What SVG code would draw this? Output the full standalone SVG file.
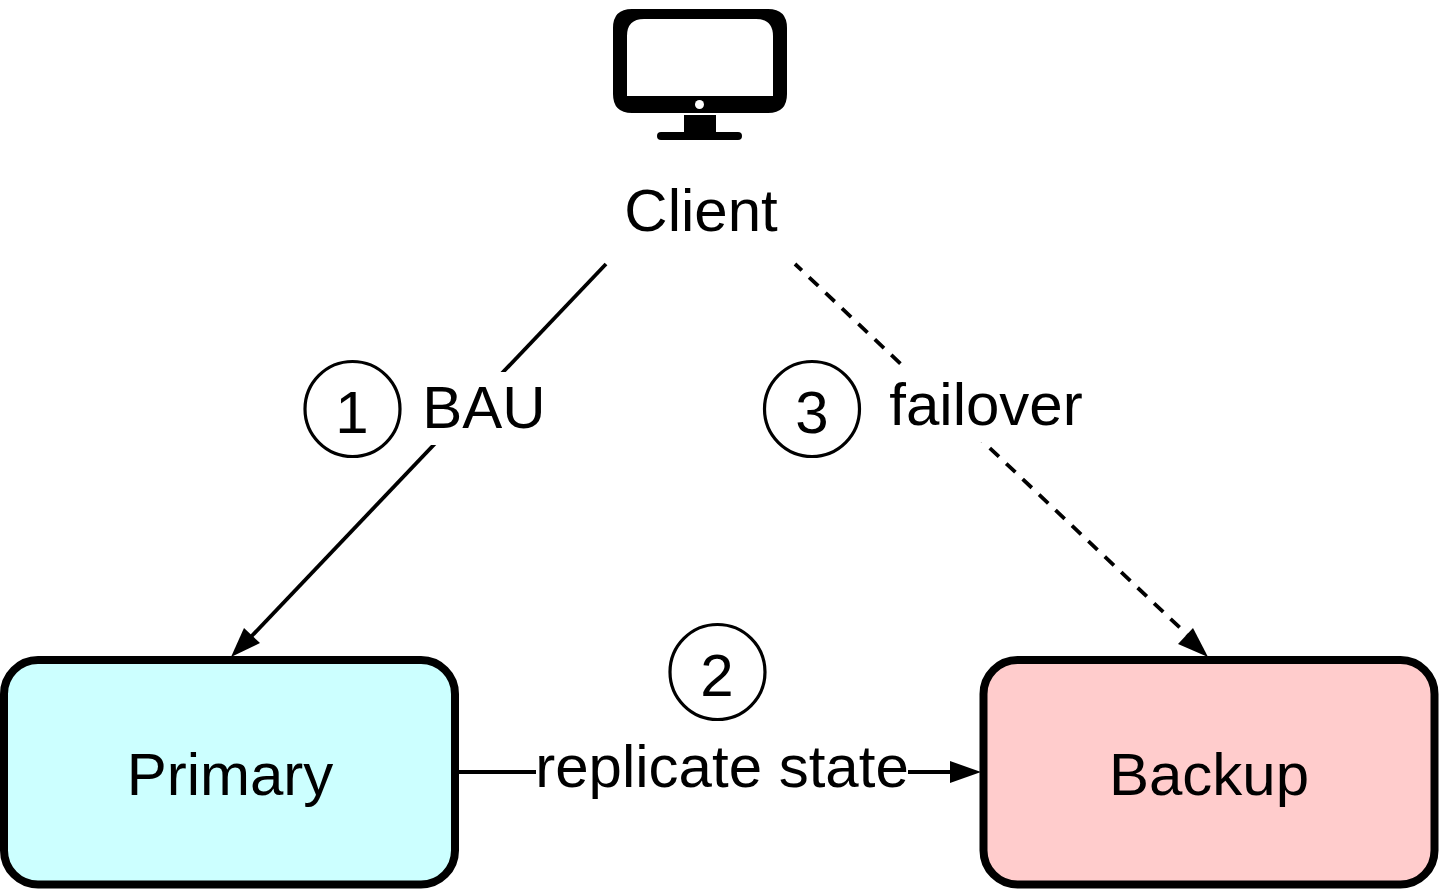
<svg xmlns="http://www.w3.org/2000/svg" width="1440" height="890" viewBox="0 0 1440 890">
<style>
text{font-family:"Liberation Sans",Arial,sans-serif;font-size:60px;fill:#000;text-anchor:middle}
.box{stroke:#000;stroke-width:8}
.c{fill:#fff;stroke:#000;stroke-width:3.2}
.l{fill:none;stroke:#000;stroke-width:3.8}
.h{fill:#000;stroke:none}
.bg{fill:#fff}
</style>
<rect width="1440" height="890" fill="#fff"/>
<g id="connectors">
<path class="l" d="M606 264L247 641"/>
<polygon class="h" points="231,657 244,628 260,643"/>
<path class="l" d="M795 264L1194 641" stroke-dasharray="12.600 10" stroke-dashoffset="3.200"/>
<polygon class="h" points="1208,657 1178,644 1193,628"/>
<path class="l" d="M458 772H952"/>
<polygon class="h" points="981,772 950,761 950,783"/>
</g>
<g id="client">
<path fill-rule="evenodd" d="M632 9H768Q787 9 787 28V94Q787 113 768 113H632Q613 113 613 94V28Q613 9 632 9ZM644 19Q627 19 627 36V96H773V36Q773 19 756 19Z"/>
<circle cx="699.500" cy="104.500" r="4.500" fill="#fff"/>
<rect x="684" y="115" width="32" height="18"/>
<rect x="657" y="132" width="85" height="8" rx="4"/>
<text x="701" y="231">Client</text>
</g>
<g id="label-1"><rect class="bg" x="415" y="372" width="140" height="73"/><circle class="c" cx="352.500" cy="409" r="47.500"/><text x="352" y="433">1</text><text x="484" y="428">BAU</text></g>
<g id="label-3"><rect class="bg" x="880" y="367" width="212" height="75"/><circle class="c" cx="812" cy="409" r="47.500"/><text x="812" y="433">3</text><text x="986" y="425">failover</text></g>
<g id="label-2"><rect class="bg" x="536" y="738" width="372" height="62"/><circle class="c" cx="717.500" cy="672" r="47.500"/><text x="717" y="696">2</text><text x="722" y="787">replicate state</text></g>
<g id="primary"><rect class="box" x="4" y="660" width="451" height="224.500" rx="34" fill="#ccffff"/><text x="230" y="795">Primary</text></g>
<g id="backup"><rect class="box" x="983.500" y="660" width="451" height="224.500" rx="34" fill="#ffcccc"/><text x="1209" y="795">Backup</text></g>
</svg>
